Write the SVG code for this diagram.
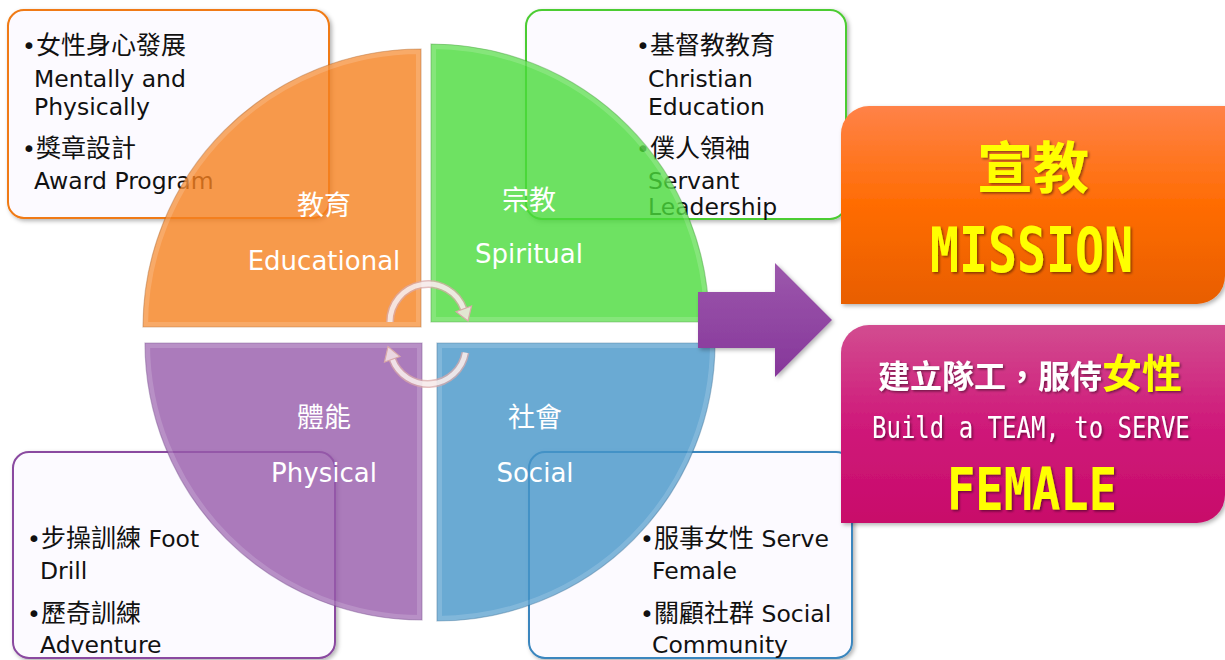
<svg xmlns="http://www.w3.org/2000/svg" width="1225" height="660" viewBox="0 0 1225 660">
<defs>
  <style>
    .box { fill: #fcfaff; stroke-width: 2; }
    .bt { font-family: "DejaVu Sans", "Noto Sans CJK TC", sans-serif; font-size: 23.5px; fill: #111; }
    .cj { font-family: "Noto Sans CJK TC", sans-serif; font-size: 25px; }
    .ql { font-family: "DejaVu Sans", "Noto Sans CJK TC", sans-serif; font-size: 26px; fill: #ffffff; text-anchor: middle; }
    .qc { font-family: "Noto Sans CJK TC", sans-serif; font-size: 27px; fill: #ffffff; text-anchor: middle; }
    .quad { opacity: 0.8; }
    .bevel { fill: none; stroke: #ffffff; stroke-opacity: 0.16; stroke-width: 10; }
    .edge { fill: none; stroke-opacity: 0.45; stroke-width: 1.2; }
    .yel { fill: #ffff00; }
    .wht { fill: #ffffff; }
    .ring { fill: none; stroke: #d9a9a9; stroke-opacity: 0.75; stroke-width: 8; }
    .ringin { fill: none; stroke: #ffffff; stroke-opacity: 0.7; stroke-width: 5; }
    .rhead { fill: #f6e6e6; fill-opacity: 0.85; stroke: #d9a9a9; stroke-width: 1.2; }
  </style>
  <filter id="sh" x="-5%" y="-5%" width="115%" height="115%">
    <feDropShadow dx="2" dy="2" stdDeviation="2" flood-color="#000" flood-opacity="0.3"/>
  </filter>
  <filter id="tsh" x="-10%" y="-50%" width="120%" height="200%">
    <feDropShadow dx="1.5" dy="1.5" stdDeviation="1" flood-color="#000" flood-opacity="0.45"/>
  </filter>
  <linearGradient id="gOr" x1="0" y1="0" x2="0" y2="1">
    <stop offset="0" stop-color="#ff8248"/>
    <stop offset="0.5" stop-color="#ff6c02"/>
    <stop offset="1" stop-color="#e85e00"/>
  </linearGradient>
  <linearGradient id="gMg" x1="0" y1="0" x2="0" y2="1">
    <stop offset="0" stop-color="#d24c90"/>
    <stop offset="0.5" stop-color="#cf1a7a"/>
    <stop offset="1" stop-color="#c80a6a"/>
  </linearGradient>
  <linearGradient id="gAr" x1="0" y1="0" x2="0" y2="1">
    <stop offset="0" stop-color="#9c58ac"/>
    <stop offset="1" stop-color="#86369a"/>
  </linearGradient>
  <clipPath id="cO"><path d="M421,327 L143,327 A278,278 0 0 1 421,49 Z"/></clipPath>
  <clipPath id="cG"><path d="M431,322 L431,44 A278,278 0 0 1 709,322 Z"/></clipPath>
  <clipPath id="cP"><path d="M422,343 L422,620 A277,277 0 0 1 145,343 Z"/></clipPath>
  <clipPath id="cB"><path d="M437,343 L715,343 A278,278 0 0 1 437,621 Z"/></clipPath>
</defs>

<!-- text boxes -->
<g id="box-educational">
  <rect class="box" x="8" y="10" width="321" height="208" rx="16" stroke="#f07a12" filter="url(#sh)"/>
  <text class="bt"><tspan x="22" y="54">•</tspan><tspan class="cj" x="36" y="54">女性身心發展</tspan></text>
  <text class="bt" x="34" y="87">Mentally and</text>
  <text class="bt" x="34" y="115">Physically</text>
  <text class="bt"><tspan x="22" y="157">•</tspan><tspan class="cj" x="36" y="157">獎章設計</tspan></text>
  <text class="bt" x="34" y="189">Award Program</text>
</g>
<g id="box-spiritual">
  <rect class="box" x="526" y="10" width="320" height="209" rx="16" stroke="#4ccc32" filter="url(#sh)"/>
  <text class="bt"><tspan x="636" y="54">•</tspan><tspan class="cj" x="650" y="54">基督教教育</tspan></text>
  <text class="bt" x="648" y="87">Christian</text>
  <text class="bt" x="648" y="115">Education</text>
  <text class="bt"><tspan x="636" y="157">•</tspan><tspan class="cj" x="650" y="157">僕人領袖</tspan></text>
  <text class="bt" x="648" y="189">Servant</text>
  <text class="bt" x="648" y="215">Leadership</text>
</g>
<g id="box-physical">
  <rect class="box" x="13" y="452" width="322" height="206" rx="16" stroke="#8a4aa0" filter="url(#sh)"/>
  <text class="bt"><tspan x="27" y="547">•</tspan><tspan class="cj" x="41" y="547">步操訓練</tspan><tspan> Foot</tspan></text>
  <text class="bt" x="40" y="579">Drill</text>
  <text class="bt"><tspan x="27" y="622">•</tspan><tspan class="cj" x="41" y="622">歷奇訓練</tspan></text>
  <text class="bt" x="40" y="653">Adventure</text>
</g>
<g id="box-social">
  <rect class="box" x="529" y="452" width="323" height="206" rx="16" stroke="#3a86be" filter="url(#sh)"/>
  <text class="bt"><tspan x="640" y="547">•</tspan><tspan class="cj" x="654" y="547">服事女性</tspan><tspan> Serve</tspan></text>
  <text class="bt" x="652" y="579">Female</text>
  <text class="bt"><tspan x="640" y="622">•</tspan><tspan class="cj" x="654" y="622">關顧社群</tspan><tspan> Social</tspan></text>
  <text class="bt" x="652" y="653">Community</text>
</g>

<!-- quadrants -->
<g id="q-educational">
  <g class="quad">
    <path d="M421,327 L143,327 A278,278 0 0 1 421,49 Z" fill="#f6811f"/>
    <path class="bevel" clip-path="url(#cO)" d="M421,327 L143,327 A278,278 0 0 1 421,49 Z"/>
    <path class="edge" stroke="#a05010" d="M421,327 L143,327 A278,278 0 0 1 421,49 Z"/>
  </g>
  <text class="qc" x="324" y="215">教育</text>
  <text class="ql" x="324" y="270">Educational</text>
</g>
<g id="q-spiritual">
  <g class="quad">
    <path d="M431,322 L431,44 A278,278 0 0 1 709,322 Z" fill="#4adb3b"/>
    <path class="bevel" clip-path="url(#cG)" d="M431,322 L431,44 A278,278 0 0 1 709,322 Z"/>
    <path class="edge" stroke="#2a8a20" d="M431,322 L431,44 A278,278 0 0 1 709,322 Z"/>
  </g>
  <text class="qc" x="529" y="210">宗教</text>
  <text class="ql" x="529" y="263">Spiritual</text>
</g>
<g id="q-physical">
  <g class="quad">
    <path d="M422,343 L422,620 A277,277 0 0 1 145,343 Z" fill="#975bab"/>
    <path class="bevel" clip-path="url(#cP)" d="M422,343 L422,620 A277,277 0 0 1 145,343 Z"/>
    <path class="edge" stroke="#60307a" d="M422,343 L422,620 A277,277 0 0 1 145,343 Z"/>
  </g>
  <text class="qc" x="324" y="427">體能</text>
  <text class="ql" x="324" y="482">Physical</text>
</g>
<g id="q-social">
  <g class="quad">
    <path d="M437,343 L715,343 A278,278 0 0 1 437,621 Z" fill="#4595c9"/>
    <path class="bevel" clip-path="url(#cB)" d="M437,343 L715,343 A278,278 0 0 1 437,621 Z"/>
    <path class="edge" stroke="#205a88" d="M437,343 L715,343 A278,278 0 0 1 437,621 Z"/>
  </g>
  <text class="qc" x="535" y="427">社會</text>
  <text class="ql" x="535" y="482">Social</text>
</g>

<!-- connectors -->
<g id="connectors">
  <path class="ring" d="M390,322 A38,38 0 0 1 463.7,309"/>
  <path class="ringin" d="M390,322 A38,38 0 0 1 463.7,309"/>
  <polygon class="rhead" points="471.5,306 456,311.8 468,321"/>
  <path class="ring" d="M465.4,352.6 A38,38 0 0 1 392.3,359"/>
  <path class="ringin" d="M465.4,352.6 A38,38 0 0 1 392.3,359"/>
  <polygon class="rhead" points="400,356.5 384.5,362 388,346.5"/>
  <polygon points="698,292 775,292 775,263 832,320 775,377 775,348 698,348" fill="url(#gAr)" filter="url(#sh)"/>
</g>

<!-- result boxes -->
<g id="mission">
  <path d="M841,134 A28,28 0 0 1 869,106 H1225 V276 A28,28 0 0 1 1197,304 H841 Z" fill="url(#gOr)" filter="url(#sh)"/>
  <text class="yel" x="1033" y="188" text-anchor="middle" font-family="Noto Sans CJK TC, sans-serif" font-weight="bold" font-size="56" filter="url(#tsh)">宣教</text>
  <text class="yel" x="930" y="272" textLength="203" lengthAdjust="spacingAndGlyphs" font-family="DejaVu Sans Mono, monospace" font-weight="bold" font-size="62" filter="url(#tsh)">MISSION</text>
</g>
<g id="team">
  <path d="M841,353 A28,28 0 0 1 869,325 H1225 V495 A28,28 0 0 1 1197,523 H841 Z" fill="url(#gMg)" filter="url(#sh)"/>
  <text x="878" y="388" font-family="Noto Sans CJK TC, sans-serif" font-weight="bold" filter="url(#tsh)"><tspan class="wht" font-size="32">建立隊工，服侍</tspan><tspan class="yel" font-size="40">女性</tspan></text>
  <text class="wht" transform="translate(872,438) scale(1,1.25)" x="0" y="0" font-family="DejaVu Sans Mono, monospace" font-size="24" filter="url(#tsh)">Build a TEAM, to SERVE</text>
  <text class="yel" x="947" y="510" textLength="170" lengthAdjust="spacingAndGlyphs" font-family="DejaVu Sans Mono, monospace" font-weight="bold" font-size="59" filter="url(#tsh)">FEMALE</text>
</g>
</svg>
